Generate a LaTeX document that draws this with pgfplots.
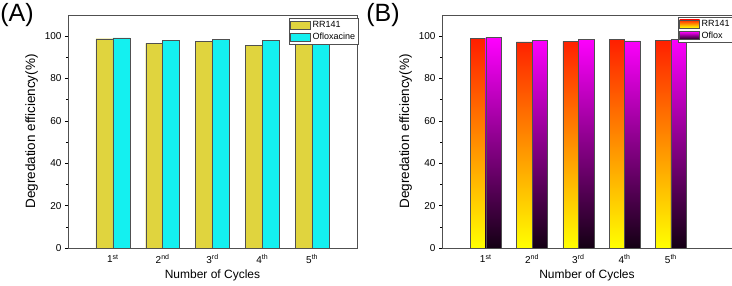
\documentclass[border=0pt]{standalone}
\usepackage{pgfplots}
\pgfplotsset{compat=1.18}
\usepackage{fontspec}
\setmainfont{Liberation Sans}
\definecolor{ryellow}{RGB}{224,212,62}
\definecolor{ocyan}{RGB}{20,240,240}
\definecolor{axgray}{RGB}{80,80,80}
\definecolor{gred}{RGB}{255,30,0}
\definecolor{gorange}{RGB}{255,160,0}
\definecolor{gyellow}{RGB}{255,255,0}
\definecolor{gmag}{RGB}{255,0,255}
\definecolor{gpurp}{RGB}{140,0,140}
\definecolor{gblack}{RGB}{20,0,20}
\pgfplotsset{
  panel/.style={
    scale only axis,
    height=233pt,
    ymin=0, ymax=110,
    ytick={0,20,40,60,80,100},
    minor y tick num=1,
    ytick pos=left,
    tick align=outside,
    major tick length=3pt,
    minor tick length=2pt,
    xtick={1,2,3,4,5},
    xticklabels={1\textsuperscript{st},2\textsuperscript{nd},3\textsuperscript{rd},4\textsuperscript{th},5\textsuperscript{th}},
    x tick style={draw=none},
    axis line style={axgray, line width=0.8pt},
    tick style={black, line width=0.6pt},
    /pgf/number format/assume math mode=true,
    tick label style={font=\fontsize{10}{12}\selectfont},
    xlabel style={font=\fontsize{12}{14}\selectfont},
    ylabel style={font=\fontsize{13.5}{15}\selectfont},
    xlabel={Number of Cycles},
    ylabel={Degredation efficiency(\%)},
    ybar=0pt,
    legend style={draw=axgray, line width=0.5pt, font=\fontsize{9}{10.5}\selectfont, inner sep=1pt, row sep=0pt, cells={anchor=west}},
    legend image code/.code={\draw[#1] (0pt,-4pt) rectangle (20pt,4pt);},
  }
}
\begin{document}
\begin{tikzpicture}
\path[use as bounding box] (0,0) rectangle (732pt,285pt);
\begin{axis}[panel,
  at={(68pt,37pt)}, anchor=south west,
  width=289pt,
  xmin=0.1, xmax=5.9,
  bar width=0.34,
  legend style={at={(rel axis cs:0.765,0.987)}, anchor=north west},
]
\addplot[fill=ryellow, draw=axgray, line width=0.4pt] coordinates {(1,98.8) (2,96.6) (3,97.7) (4,95.7) (5,97.2)};
\addplot[fill=ocyan, draw=axgray, line width=0.4pt] coordinates {(1,99.2) (2,98.1) (3,98.4) (4,97.9) (5,97.6)};
\legend{RR141,Ofloxacine}
\end{axis}
\begin{axis}[panel,
  at={(442pt,37pt)}, anchor=south west,
  width=290pt,
  xmin=0.056, xmax=6.32,
  bar width=0.335,
  legend style={at={(rel axis cs:0.814,0.993)}, anchor=north west},
]
\addplot[top color=gred, middle color=gorange, bottom color=gyellow, draw=axgray, line width=0.4pt] coordinates {(1,98.9) (2,97.3) (3,97.6) (4,98.6) (5,98.1)};
\addplot[top color=gmag, middle color=gpurp, bottom color=gblack, draw=axgray, line width=0.4pt] coordinates {(1,99.3) (2,98.1) (3,98.4) (4,97.8) (5,98.5)};
\legend{RR141,Oflox}
\end{axis}
\node at (17pt,270pt) {\fontsize{25}{30}\selectfont (A)};
\node at (383pt,270pt) {\fontsize{25}{30}\selectfont (B)};
\end{tikzpicture}
\end{document}
